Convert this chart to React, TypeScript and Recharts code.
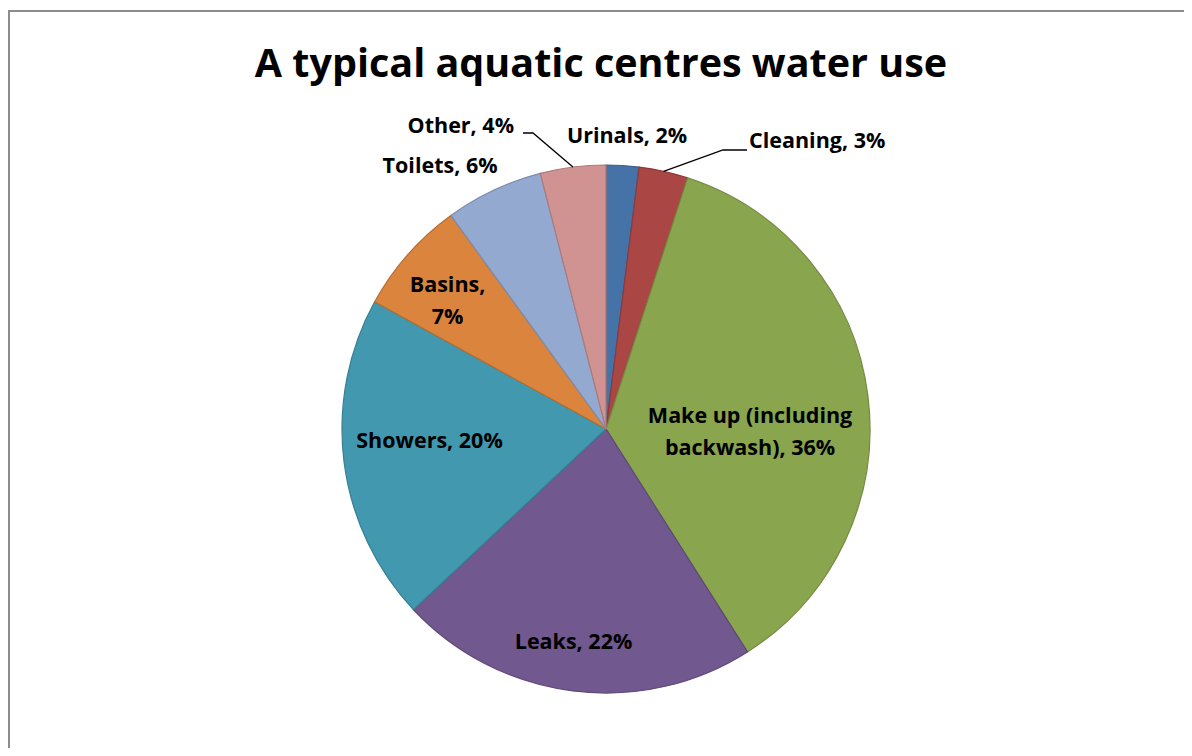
import React from "react";
import { Cell, Pie, PieChart } from "recharts";

const categories = [
  "Urinals",
  "Cleaning",
  "Make up (including backwash)",
  "Leaks",
  "Showers",
  "Basins",
  "Toilets",
  "Other",
];
const shares = [2, 3, 36, 22, 20, 7, 6, 4];
// how each data label breaks into lines (Excel wrapped them)
const labelLines = [
  ["Urinals, 2%"],
  ["Cleaning, 3%"],
  ["Make up (including", "backwash), 36%"],
  ["Leaks, 22%"],
  ["Showers, 20%"],
  ["Basins,", "7%"],
  ["Toilets, 6%"],
  ["Other, 4%"],
];

const fills = ["#4572A7", "#AA4643", "#89A54E", "#71588F", "#4198AF", "#DB843D", "#93A9CF", "#D19392"];
const strokes = ["#3A5F8B", "#8E3A38", "#728A41", "#5E4977", "#367F92", "#B66E33", "#7B8DAD", "#AE7A7A"];

const data = categories.map((name, i) => ({ name, value: shares[i] }));

const W = 1182;
const H = 736;
const CX = 591;
const CY = 412;
const R = 264;
const FONT = "'Open Sans', Lato, sans-serif";
const RAD = Math.PI / 180;

// label placement: radius factor along the mid angle, then a nudge; leader labels get an elbow
type Place = {
  f: number;
  dx: number;
  dy: number;
  anchor: "start" | "middle" | "end";
  elbow?: [number, number];
  end?: [number, number];
};
const places: Place[] = [
  { f: 1.09, dx: 3, dy: 1, anchor: "middle" },
  { f: 0, dx: 143, dy: -281, anchor: "start", elbow: [117, -279], end: [141, -279] },
  { f: 0.55, dx: 0, dy: 12, anchor: "middle" },
  { f: 0.83, dx: -5, dy: 3, anchor: "middle" },
  { f: 0.67, dx: -1, dy: -3, anchor: "middle" },
  { f: 0.78, dx: -4, dy: -1, anchor: "middle" },
  { f: 1.12, dx: -40, dy: 12, anchor: "middle" },
  { f: 0, dx: -92, dy: -296, anchor: "end", elbow: [-73, -296], end: [-83, -296] },
];

function renderLabel(props: any) {
  const { cx, cy, midAngle, outerRadius, index } = props;
  const p = places[index];
  const lines = labelLines[index];
  const ca = Math.cos(-midAngle * RAD);
  const sa = Math.sin(-midAngle * RAD);
  let x: number;
  let y: number;
  let leader: React.ReactNode = null;
  if (p.elbow && p.end) {
    x = cx + p.dx;
    y = cy + p.dy;
    const sx = cx + outerRadius * ca;
    const sy = cy + outerRadius * sa;
    leader = (
      <polyline
        points={`${sx},${sy} ${cx + p.elbow[0]},${cy + p.elbow[1]} ${cx + p.end[0]},${cy + p.end[1]}`}
        fill="none"
        stroke="#000"
        strokeWidth={1.3}
      />
    );
  } else {
    x = cx + outerRadius * p.f * ca + p.dx;
    y = cy + outerRadius * p.f * sa + p.dy;
  }
  return (
    <g key={`lbl-${index}`}>
      {leader}
      <text
        x={x}
        y={y}
        textAnchor={p.anchor}
        fill="#000"
        fontFamily={FONT}
        fontWeight={700}
        fontSize={21.5}
      >
        {lines.map((t, k) => (
          <tspan key={k} x={x} dy={k === 0 ? 0 : 32}>
            {t}
          </tspan>
        ))}
      </text>
    </g>
  );
}

export default function App() {
  return (
    <div
      style={{
        position: "relative",
        marginTop: 2,
        width: W,
        height: H,
        borderTop: "2px solid #8c8c8c",
        borderLeft: "2px solid #8c8c8c",
        background: "#fff",
      }}
    >
      <div
        style={{
          position: "absolute",
          left: 0,
          top: 26,
          width: W,
          textAlign: "center",
          fontFamily: FONT,
          fontWeight: 700,
          fontSize: 39.5,
          lineHeight: "48px",
          color: "#000",
        }}
      >
        <span style={{ position: "relative", left: 0 }}>A typical aquatic centres water use</span>
      </div>
      <PieChart width={W} height={H}>
        <Pie
          data={data}
          dataKey="value"
          nameKey="name"
          cx={CX}
          cy={CY}
          outerRadius={R}
          startAngle={90}
          endAngle={-270}
          label={renderLabel}
          labelLine={false}
          isAnimationActive={false}
        >
          {data.map((d, i) => (
            <Cell key={d.name} fill={fills[i]} stroke={strokes[i]} strokeWidth={1.2} />
          ))}
        </Pie>
      </PieChart>
    </div>
  );
}
